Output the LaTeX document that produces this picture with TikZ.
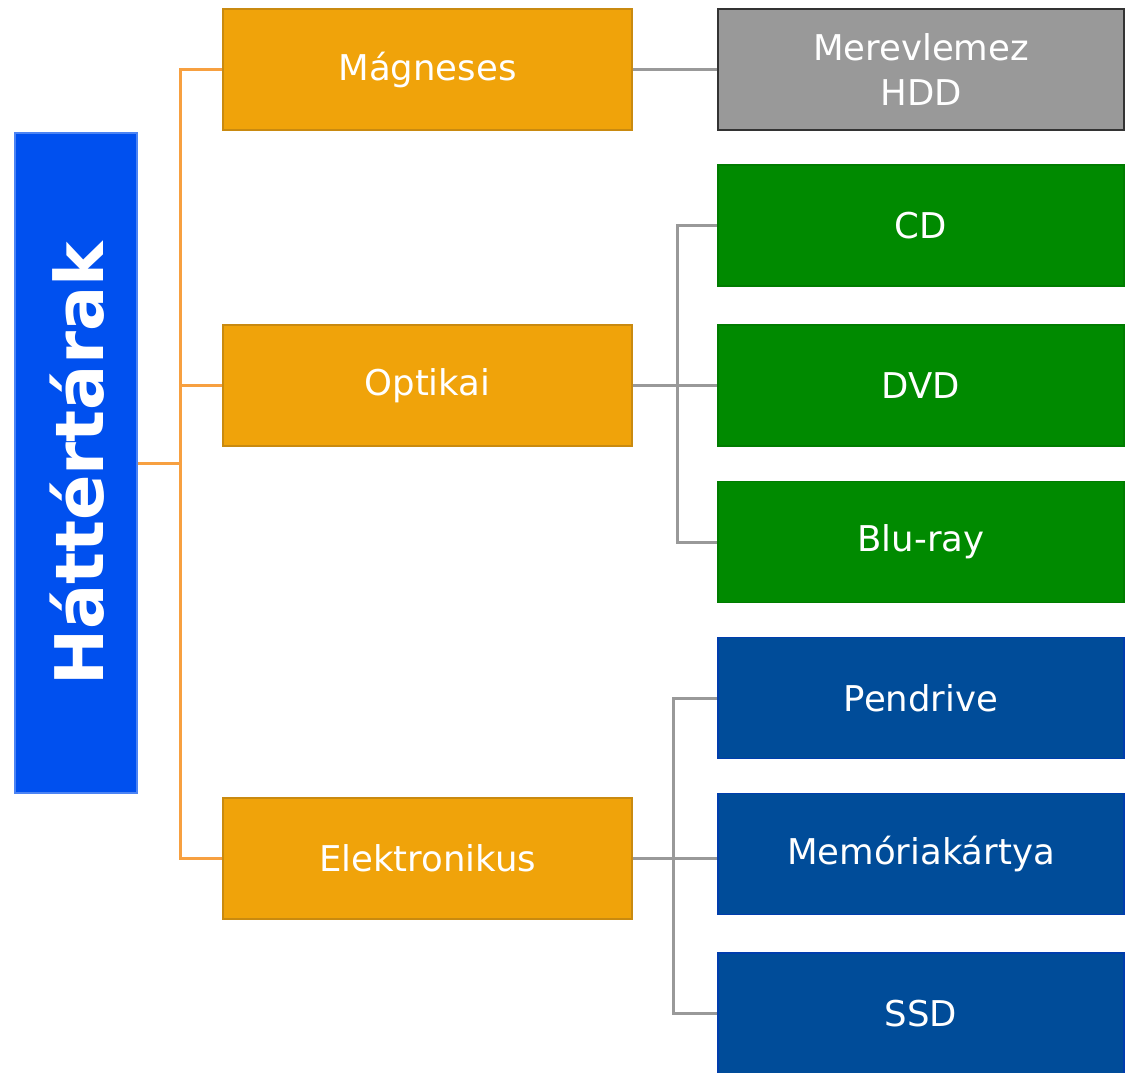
\documentclass[tikz,border=0pt]{standalone}
\usepackage{fontspec}
\setmainfont{DejaVu Sans}
\definecolor{rootblue}{HTML}{0050EF}
\definecolor{orangef}{HTML}{F0A30A}
\definecolor{oranged}{HTML}{C98A10}
\definecolor{orangeline}{HTML}{F7A040}
\definecolor{grayline}{HTML}{999999}
\definecolor{hddfill}{HTML}{999999}
\definecolor{greenf}{HTML}{008A00}
\definecolor{bluef}{HTML}{004C99}
\begin{document}
\begin{tikzpicture}[x=1pt,y=-1pt,
  box/.style={rectangle, inner sep=0pt, text=white, align=center, font=\fontsize{35.5}{45}\selectfont, line width=1.5pt},
  midbox/.style={box, fill=orangef, draw=oranged, minimum width=409pt, minimum height=121pt},
  leafbox/.style={box, minimum width=406pt, minimum height=121pt},
  hddbox/.style={leafbox, fill=hddfill, draw=black!80},
  optbox/.style={leafbox, fill=greenf, draw=greenf!90!black},
  elbox/.style={leafbox, fill=bluef, draw=bluef!80!blue},
  oline/.style={draw=orangeline, line width=3pt},
  gline/.style={draw=grayline, line width=3pt}]
\useasboundingbox (0,0) rectangle (1125,1072);
% root
\node[rectangle, inner sep=0pt, fill=rootblue, draw=rootblue!70!white, line width=1.5pt,
  minimum width=122pt, minimum height=660pt] (root) at (76,463) {};
\node[rotate=90, text=white, font=\fontsize{67}{70}\bfseries\selectfont] (roottext) at (77,464) {Háttértárak};
% middle
\node[midbox] (mag) at (427.5,69.5) {Mágneses};
\node[midbox] (opt) at (427.5,385.5) {Optikai};
\node[midbox] (ele) at (427.5,858.5) {Elektronikus};
% leaves
\node[hddbox] (hdd) at (921,69.5) {Merevlemez\\HDD};
\node[optbox] (cd) at (921,225.5) {CD};
\node[optbox] (dvd) at (921,385.5) {DVD};
\node[optbox] (blu) at (921,542) {Blu-ray};
\node[elbox] (pen) at (921,698) {Pendrive};
\node[elbox] (mem) at (921,854) {Memóriakártya};
\node[elbox] (ssd) at (921,1013.5) {SSD};
% orange connectors
\coordinate (ob) at (180,463);
\draw[oline] (root.east |- ob) -- (ob);
\draw[oline] (ob) -- (ob |- mag.west) -- (mag.west);
\draw[oline] (ob) -- (ob |- opt.west) -- (opt.west);
\draw[oline] (ob) -- (ob |- ele.west) -- (ele.west);
% gray connectors
\draw[gline] (mag.east) -- (hdd.west);
\coordinate (gb1) at (677,385.5);
\draw[gline] (opt.east) -- (gb1);
\draw[gline] (gb1) -- (gb1 |- cd.west) -- (cd.west);
\draw[gline] (gb1) -- (dvd.west);
\draw[gline] (gb1) -- (gb1 |- blu.west) -- (blu.west);
\coordinate (gb2) at (673,858.5);
\draw[gline] (ele.east) -- (gb2);
\draw[gline] (gb2) -- (gb2 |- pen.west) -- (pen.west);
\draw[gline] (gb2) -- (gb2 -| mem.west);
\draw[gline] (gb2) -- (gb2 |- ssd.west) -- (ssd.west);
\end{tikzpicture}
\end{document}
